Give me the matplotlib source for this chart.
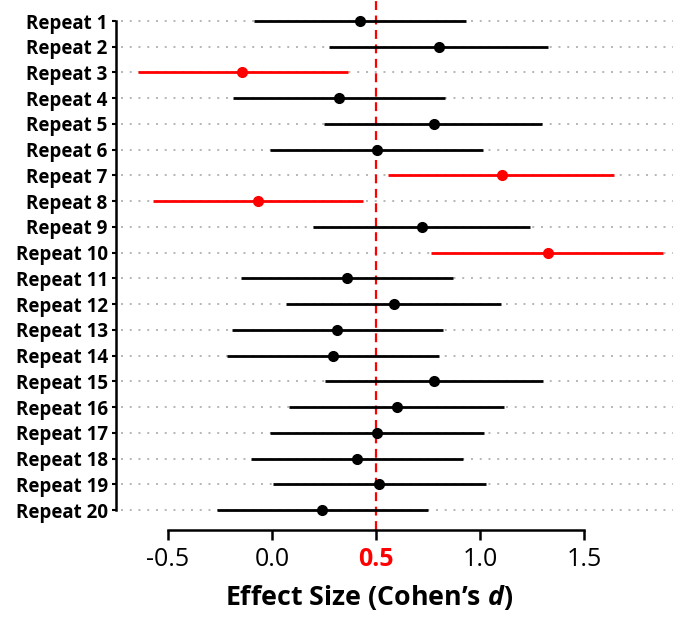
import numpy as np
import matplotlib.pyplot as plt

plt.rcParams['font.family'] = ['Open Sans', 'DejaVu Sans']
plt.rcParams['mathtext.fontset'] = 'custom'
plt.rcParams['mathtext.bfit'] = 'Open Sans:bold:italic'

# Cohen's d with 95% CI for each repeat
labels = [f"Repeat {i}" for i in range(1, 21)]
d_est = [0.425, 0.803, -0.143, 0.320, 0.777, 0.503, 1.106, -0.069, 0.723, 1.329,
         0.361, 0.585, 0.314, 0.295, 0.780, 0.599, 0.506, 0.410, 0.516, 0.242]
ci_low = [-0.087, 0.276, -0.646, -0.189, 0.248, -0.010, 0.559, -0.572, 0.199, 0.764,
          -0.151, 0.067, -0.194, -0.215, 0.253, 0.082, -0.010, -0.103, 0.003, -0.263]
ci_high = [0.933, 1.325, 0.364, 0.830, 1.298, 1.014, 1.644, 0.437, 1.242, 1.881,
           0.869, 1.099, 0.822, 0.801, 1.301, 1.115, 1.017, 0.920, 1.029, 0.748]
true_d = 0.5
xticks = [-0.5, 0.0, 0.5, 1.0, 1.5]

rows = np.arange(1, len(labels) + 1)

fig = plt.figure(figsize=(6.73, 6.17), dpi=100)
ax = fig.add_axes([116 / 673, 1 - 530 / 617, 1 - 116 / 673, 530 / 617])
ax.set_xlim(-0.75, 1.928)
ax.set_ylim(20.777, 0.184)

# dotted guide for every row
ax.hlines(rows, -0.725, 1.93, colors='#b5b5b5', linestyles=(0, (1, 3.5)),
          linewidth=1.4, zorder=1)

for y, m, lo, hi in zip(rows, d_est, ci_low, ci_high):
    # CIs that miss the true effect are drawn in red
    col = 'red' if (lo > true_d or hi < true_d) else 'black'
    ax.plot([lo, hi], [y, y], color=col, linewidth=2.0, solid_capstyle='butt', zorder=3)
    ax.plot(m, y, 'o', color=col, markersize=7, zorder=4)

ax.axvline(true_d, ymin=0, ymax=1, color='red', linestyle=(0, (4, 2.5)),
           linewidth=1.6, zorder=2)

for side in ('top', 'right'):
    ax.spines[side].set_visible(False)
ax.spines['left'].set_bounds(1, 20)
ax.spines['bottom'].set_bounds(-0.5, 1.5)
ax.spines['left'].set_linewidth(1.8)
ax.spines['bottom'].set_linewidth(1.8)

ax.set_yticks(rows)
ax.set_yticklabels(labels, fontsize=13.5, fontweight='bold')
ax.tick_params(axis='y', direction='out', length=3, width=1.5, pad=3)

ax.set_xticks(xticks)
ax.set_xticklabels([f"{v:.1f}" for v in xticks], fontsize=18)
ax.tick_params(axis='x', direction='out', length=7, width=1.8, pad=5)
for lab in ax.get_xticklabels():
    if lab.get_text() == f"{true_d:.1f}":
        lab.set_color('red')
        lab.set_fontweight('bold')

ax.set_xlabel(r"Effect Size (Cohen’s $\mathbfit{d}$)", fontsize=19.3,
              fontweight='bold')
ax.xaxis.set_label_coords(0.455, -0.1)

fig.savefig("out.png", dpi=100)
